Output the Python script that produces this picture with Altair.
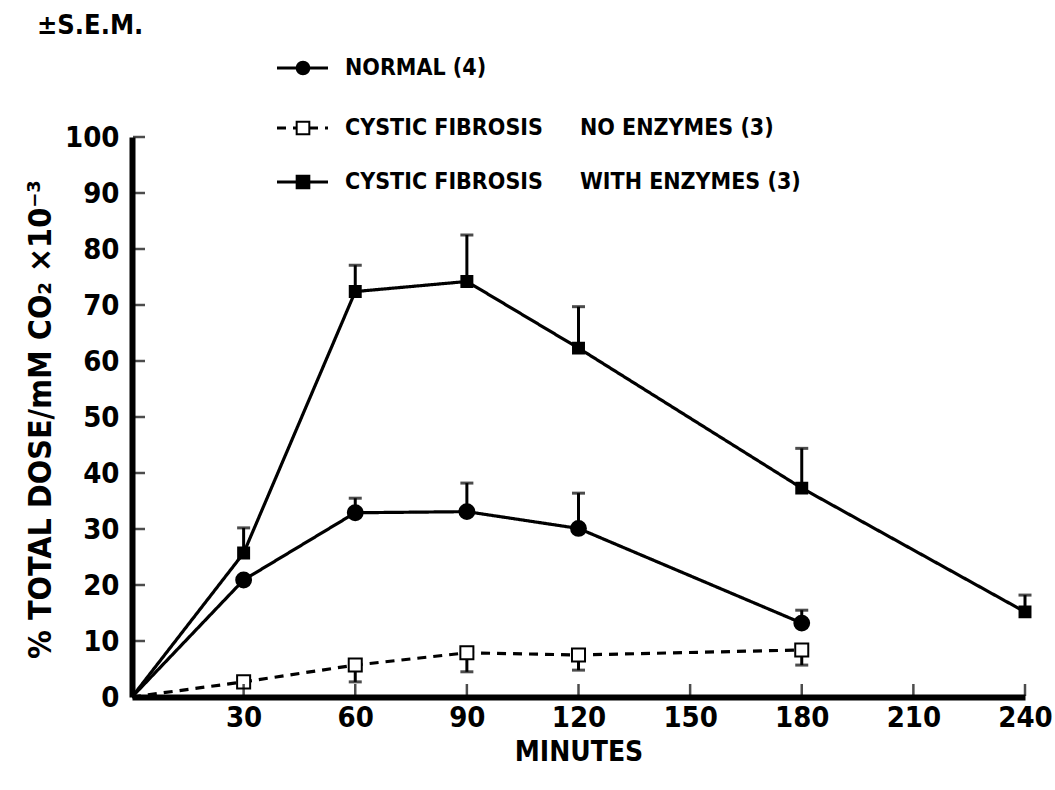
import altair as alt
import pandas as pd

FONT = "DejaVu Sans Condensed, Liberation Sans, sans-serif"

# Time points (minutes) with group mean and SEM
# (% total dose / mM CO2 x10^-3)
normal_minutes = [0, 30, 60, 90, 120, 180]
normal_mean = [0, 20.9, 32.9, 33.1, 30.1, 13.2]
normal_sem = [0, 0, 2.6, 5.1, 6.3, 2.3]

cf_no_minutes = [0, 30, 60, 90, 120, 180]
cf_no_mean = [0, 2.7, 5.7, 7.9, 7.5, 8.4]
cf_no_sem = [0, 0, 3.0, 3.4, 2.7, 2.7]

cf_with_minutes = [0, 30, 60, 90, 120, 180, 240]
cf_with_mean = [0, 25.7, 72.4, 74.2, 62.3, 37.3, 15.2]
cf_with_sem = [0, 4.5, 4.7, 8.3, 7.4, 7.1, 3.0]

x_ticks = [30, 60, 90, 120, 150, 180, 210, 240]
y_ticks = [0, 10, 20, 30, 40, 50, 60, 70, 80, 90, 100]

groups = ["normal", "cf_no", "cf_with"]
legend_left = ["NORMAL  (4)", "CYSTIC  FIBROSIS", "CYSTIC  FIBROSIS"]
legend_right = ["", "NO  ENZYMES  (3)", "WITH  ENZYMES  (3)"]

rows = []
for g, mins, means, sems in [
    ("normal", normal_minutes, normal_mean, normal_sem),
    ("cf_no", cf_no_minutes, cf_no_mean, cf_no_sem),
    ("cf_with", cf_with_minutes, cf_with_mean, cf_with_sem),
]:
    for m, v, s in zip(mins, means, sems):
        # the no-enzyme group shows its SEM below the mean, the others above
        if g == "cf_no":
            lo, hi, cap = v - s, v, v - s
        else:
            lo, hi, cap = v, v + s, v + s
        rows.append(dict(group=g, minute=m, mean=v, sem=s, lo=lo, hi=hi, cap=cap))
df = pd.DataFrame(rows)

W, H = 893, 560

x_enc = alt.X(
    "minute:Q",
    scale=alt.Scale(domain=[0, 240], nice=False, zero=True),
    axis=alt.Axis(
        values=x_ticks, title="MINUTES", grid=False, ticks=False,
        domainColor="black", domainWidth=6, labelFont=FONT, labelFontSize=29,
        labelFontWeight="bold", labelColor="black", labelPadding=6,
        titleFont=FONT, titleFontSize=28, titleFontWeight="bold",
        titleColor="black", titlePadding=6, labelFlush=False,
    ),
)
y_enc = alt.Y(
    "mean:Q",
    scale=alt.Scale(domain=[0, 100], nice=False),
    axis=alt.Axis(
        values=y_ticks, title="% TOTAL DOSE/mM CO\u2082 \u00d710\u207b\u00b3",
        grid=False, ticks=False, domainColor="black", domainWidth=6,
        labelFont=FONT, labelFontSize=29, labelFontWeight="bold",
        labelColor="black", labelPadding=13, titleFont=FONT, titleFontSize=32,
        titleFontWeight="bold", titleColor="black", titleX=-92, titleY=282,
        titleAngle=270, titleAlign="center", titleBaseline="middle",
        labelFlush=False,
    ),
)

base = alt.Chart(df)

lines = base.mark_line(color="black", strokeWidth=3.2).encode(
    x=x_enc,
    y=y_enc,
    detail="group:N",
    strokeDash=alt.StrokeDash(
        "group:N",
        scale=alt.Scale(domain=groups, range=[[1, 0], [9, 7], [1, 0]]),
        legend=None,
    ),
)

bars = base.transform_filter("datum.sem > 0").mark_rule(
    color="black", strokeWidth=3
).encode(x="minute:Q", y="lo:Q", y2="hi:Q")

caps = base.transform_filter("datum.sem > 0").mark_tick(
    orient="horizontal", color="black", thickness=3, size=13
).encode(x="minute:Q", y="cap:Q")

points = base.transform_filter("datum.minute > 0").mark_point(
    filled=True, stroke="black", strokeWidth=2, opacity=1
).encode(
    x="minute:Q",
    y="mean:Q",
    shape=alt.Shape("group:N", scale=alt.Scale(domain=groups, range=["circle", "square", "square"]), legend=None),
    fill=alt.Fill("group:N", scale=alt.Scale(domain=groups, range=["black", "white", "black"]), legend=None),
    size=alt.Size("group:N", scale=alt.Scale(domain=groups, range=[220, 120, 240]), legend=None),
)

# inward-facing tick marks on both axes
ytick = alt.Chart(pd.DataFrame({"v": y_ticks[1:]})).mark_tick(
    orient="horizontal", color="black", thickness=2.5, size=12, xOffset=7
).encode(x=alt.datum(0), y="v:Q")
xtick = alt.Chart(pd.DataFrame({"v": x_ticks})).mark_tick(
    orient="vertical", color="black", thickness=2.5, size=12, yOffset=-7
).encode(x="v:Q", y=alt.datum(0))

one = alt.Data(values=[{"k": 1}])
legend_layers = []
row_y = [-69, -9, 45]
dash = [[1, 0], [9, 7], [1, 0]]
shape = ["circle", "square", "square"]
fill = ["black", "white", "black"]
for i in range(3):
    ry = row_y[i]
    legend_layers.append(
        alt.Chart(one).mark_rule(color="black", strokeWidth=3, strokeDash=dash[i]).encode(
            x=alt.value(145), x2=alt.value(196), y=alt.value(ry)
        )
    )
    legend_layers.append(
        alt.Chart(one).mark_point(
            shape=shape[i], filled=True, fill=fill[i], stroke="black",
            strokeWidth=2, size=160, opacity=1
        ).encode(x=alt.value(171), y=alt.value(ry))
    )
    legend_layers.append(
        alt.Chart(one).mark_text(
            text=legend_left[i], align="left", baseline="middle", font=FONT,
            fontSize=23, fontWeight="bold", color="black"
        ).encode(x=alt.value(213), y=alt.value(ry))
    )
    if legend_right[i]:
        legend_layers.append(
            alt.Chart(one).mark_text(
                text=legend_right[i], align="left", baseline="middle", font=FONT,
                fontSize=23, fontWeight="bold", color="black"
            ).encode(x=alt.value(448), y=alt.value(ry))
        )

sem_note = alt.Chart(one).mark_text(
    text="\u00b1S.E.M.", align="left", baseline="middle", font=FONT,
    fontSize=27, fontWeight="bold", color="black"
).encode(x=alt.value(-95), y=alt.value(-111))

chart = alt.layer(
    lines, bars, caps, points, ytick, xtick, sem_note, *legend_layers
).properties(
    width=W, height=H,
    background="white",
    autosize=alt.AutoSizeParams(type="none"),
    padding={"left": 132, "top": 137, "right": 30, "bottom": 93},
).configure_view(stroke="transparent", strokeWidth=0)

chart.save("out.html", embed_options={"renderer": "svg", "actions": False})
